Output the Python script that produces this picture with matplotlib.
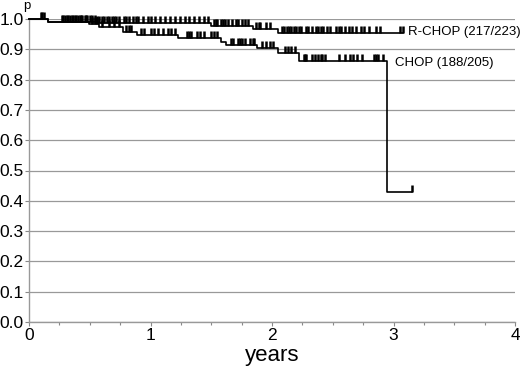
import numpy as np
import matplotlib
matplotlib.use("Agg")
import matplotlib.pyplot as plt

plt.rcParams['font.family'] = ['Liberation Sans', 'DejaVu Sans']

# step functions: event times and survival level after each event
rchop_times = [0.0, 0.16, 0.55, 1.50, 1.84, 2.05]
rchop_surv = [1.0, 0.991, 0.988, 0.978, 0.968, 0.953]
rchop_end = 3.08

chop_times = [0.0, 0.16, 0.49, 0.58, 0.77, 0.89, 1.23, 1.58, 1.62, 1.88, 2.05, 2.22, 2.95]
chop_surv = [1.0, 0.991, 0.985, 0.975, 0.958, 0.947, 0.936, 0.925, 0.914, 0.903, 0.888, 0.863, 0.43]
chop_end = 3.15

# censored observations (years)
rchop_cens = [0.10, 0.12, 0.27, 0.30, 0.32, 0.34, 0.36, 0.38, 0.40, 0.42, 0.44, 0.46,
              0.48, 0.50, 0.52, 0.54, 0.56, 0.58, 0.60, 0.62, 0.64, 0.66, 0.68, 0.70,
              0.72, 0.74, 0.78, 0.80, 0.82, 0.86, 0.88, 0.90, 0.94, 0.98, 1.00, 1.04,
              1.08, 1.12, 1.16, 1.20, 1.24, 1.28, 1.32, 1.36, 1.40, 1.44, 1.47, 1.52,
              1.54, 1.55, 1.58, 1.60, 1.61, 1.64, 1.67, 1.70, 1.72, 1.75, 1.78, 1.80,
              1.87, 1.89, 1.90, 1.95, 1.98, 2.08, 2.10, 2.12, 2.14, 2.16, 2.18, 2.20,
              2.22, 2.24, 2.28, 2.30, 2.33, 2.36, 2.38, 2.40, 2.42, 2.45, 2.48, 2.53,
              2.55, 2.57, 2.60, 2.63, 2.66, 2.69, 2.73, 2.76, 2.80, 2.86, 2.89, 3.05, 3.08]
chop_cens = [0.11, 0.28, 0.31, 0.35, 0.39, 0.43, 0.47, 0.52, 0.54, 0.56, 0.60, 0.66,
             0.70, 0.74, 0.80, 0.82, 0.84, 0.92, 0.95, 1.00, 1.03, 1.06, 1.10, 1.14,
             1.17, 1.20, 1.30, 1.32, 1.33, 1.38, 1.41, 1.44, 1.50, 1.52, 1.55, 1.66,
             1.68, 1.72, 1.74, 1.75, 1.78, 1.82, 1.84, 1.85, 1.92, 1.95, 1.98, 2.01,
             2.11, 2.13, 2.16, 2.19, 2.26, 2.27, 2.28, 2.33, 2.35, 2.38, 2.40, 2.41,
             2.44, 2.55, 2.60, 2.64, 2.67, 2.70, 2.74, 2.84, 2.86, 2.87, 2.91, 3.15]

labels = ['R-CHOP (217/223)', 'CHOP (188/205)']


def surv_at(t, times, levels):
    idx = np.searchsorted(times, t, side='right') - 1
    return np.array(levels)[idx]


fig = plt.figure(figsize=(5.2, 3.67), dpi=100)
ax = fig.add_axes([29 / 520, 45 / 367, 486 / 520, 303 / 367])

for times, levels, end, cens, lab in [
        (rchop_times, rchop_surv, rchop_end, rchop_cens, labels[0]),
        (chop_times, chop_surv, chop_end, chop_cens, labels[1])]:
    xs = list(times) + [end]
    ys = list(levels) + [levels[-1]]
    ax.step(xs, ys, where='post', color='black', lw=1.2, clip_on=False, zorder=3)
    c = np.array(cens)
    ax.plot(c, surv_at(c, times, levels), ls='none', marker=2, ms=5,
            mew=1.8, color='black', clip_on=False, zorder=3)

ax.text(3.12, 0.957, labels[0], fontsize=9.5, va='center', ha='left')
ax.text(3.01, 0.855, labels[1], fontsize=9.5, va='center', ha='left')

ax.set_xlim(0, 4)
ax.set_ylim(0, 1.0)
ax.set_xticks([0, 1, 2, 3, 4])
ax.set_xticks(np.arange(0, 4.01, 0.25), minor=True)
ax.set_yticks(np.arange(0, 1.01, 0.1))
ax.set_yticklabels([f'{v:.1f}' for v in np.arange(0, 1.01, 0.1)])
ax.tick_params(axis='both', labelsize=12.5, length=3, width=0.8, color='#888888', pad=1)
ax.tick_params(axis='x', which='minor', length=2, width=0.8, color='#888888')
ax.grid(axis='y', color='#999999', lw=0.9)
ax.set_axisbelow(True)
for s in ['top', 'right']:
    ax.spines[s].set_visible(False)
for s in ['left', 'bottom']:
    ax.spines[s].set_color('#999999')
    ax.spines[s].set_linewidth(1.0)

ax.set_xlabel('years', fontsize=16, labelpad=2)
fig.text(27 / 520, 1 - 6 / 367, 'p', fontsize=9.5, ha='center', va='center')

fig.savefig('out.png', dpi=100)
